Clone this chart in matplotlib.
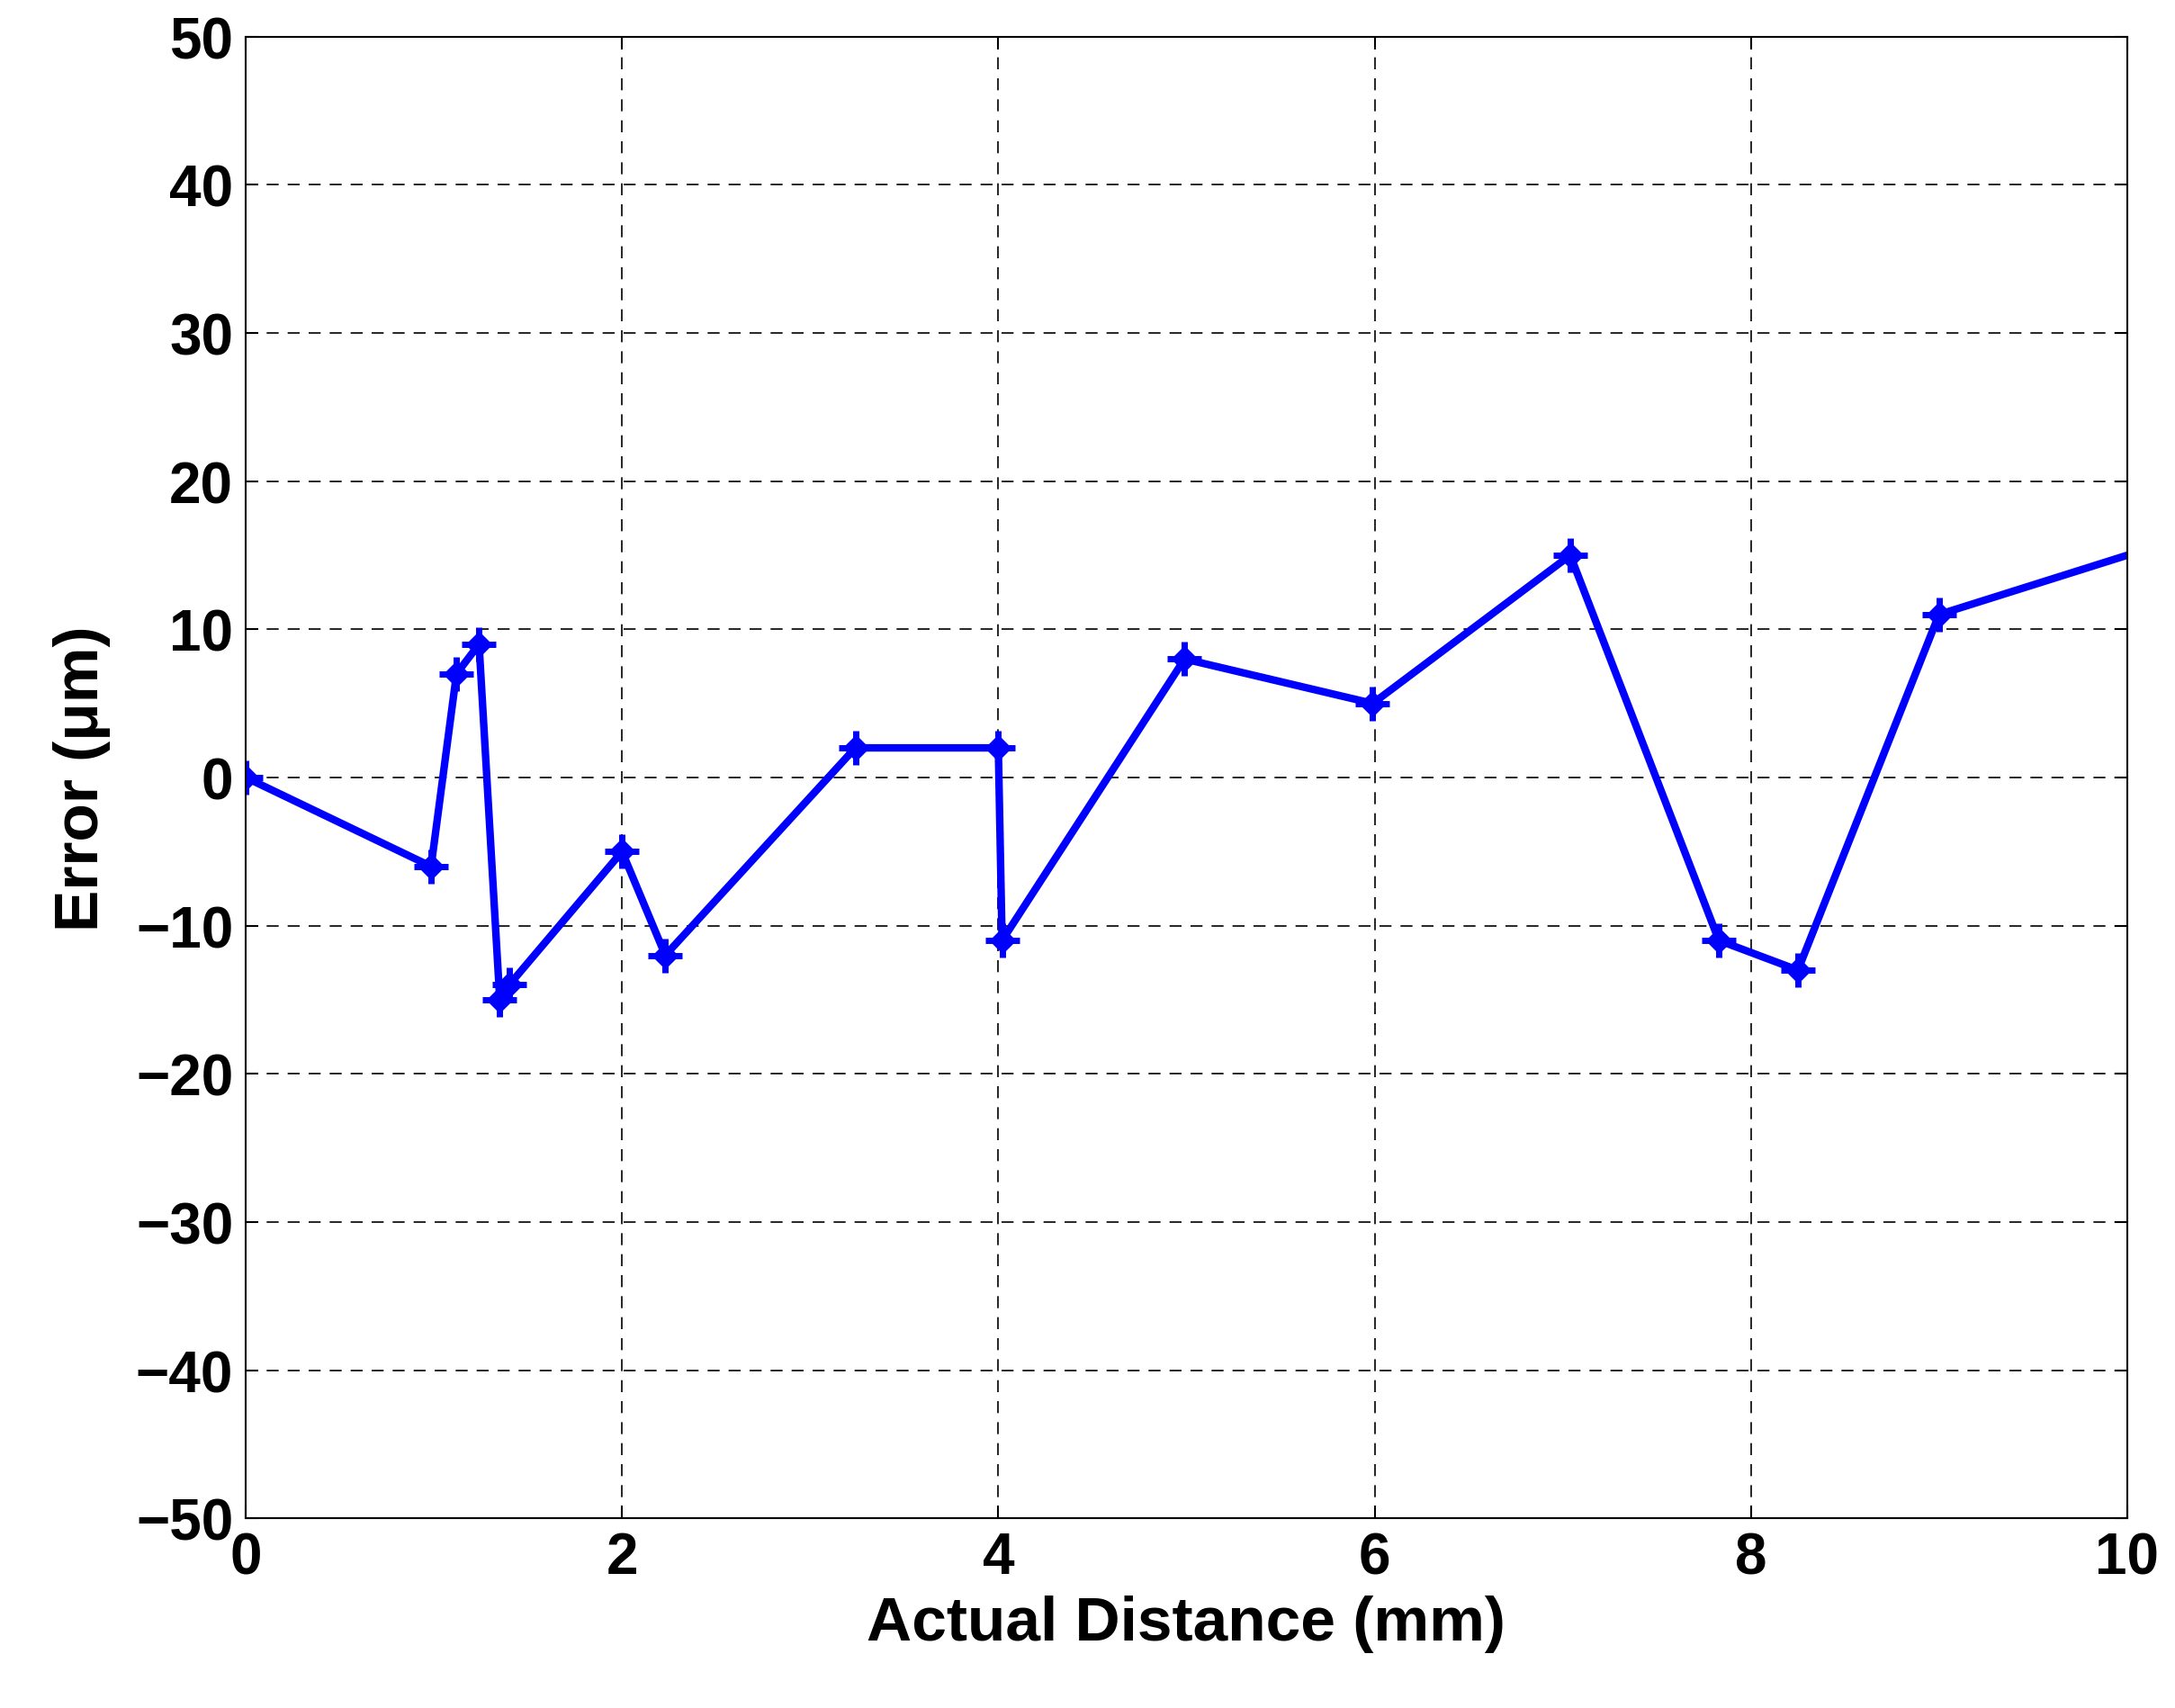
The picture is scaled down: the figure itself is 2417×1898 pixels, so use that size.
import matplotlib
matplotlib.use('Agg')
import matplotlib.pyplot as plt

# data
distance = [0, 0.985, 1.12, 1.24, 1.35, 1.4, 2.0, 2.23, 3.24, 4.0, 4.02, 4.99, 5.99, 7.04, 7.83, 8.25, 9.0, 10.0]
error = [0, -6, 7, 9, -15, -14, -5, -12, 2, 2, -11, 8, 5, 15, -11, -13, 11, 15]

plt.rcParams['font.family'] = ['Liberation Sans', 'DejaVu Sans']
plt.rcParams['font.weight'] = 'bold'

fig = plt.figure(figsize=(24.17, 18.99), dpi=100)
ax = fig.add_axes([0.113, 0.111, 0.865, 0.867])

marks = list(range(len(distance) - 1))
ax.plot(distance, error, color='#0000ff', lw=6, marker='D', ms=14, markevery=marks, clip_on=True)
ax.plot(distance, error, color='#0000ff', lw=0, marker='+', ms=28, mew=5, markevery=marks)

ax.set_xlim(0, 10)
ax.set_ylim(-50, 50)
ax.set_xticks(range(0, 11, 2))
ax.set_yticks(range(-50, 51, 10))
ax.grid(True, color='black', ls=(0, (8, 6)), lw=1.2)
ax.tick_params(labelsize=46, direction='in', length=10, width=1.5, top=True, right=True, pad=10)
for lab in ax.get_xticklabels() + ax.get_yticklabels():
    lab.set_fontweight('bold')
for s in ax.spines.values():
    s.set_linewidth(1.5)
ax.set_xlabel('Actual Distance (mm)', fontsize=50, fontweight='bold', labelpad=8)
ax.set_ylabel('Error (\u03bcm)', fontsize=50, fontweight='bold', labelpad=20)

fig.savefig('out.png', dpi=100)
